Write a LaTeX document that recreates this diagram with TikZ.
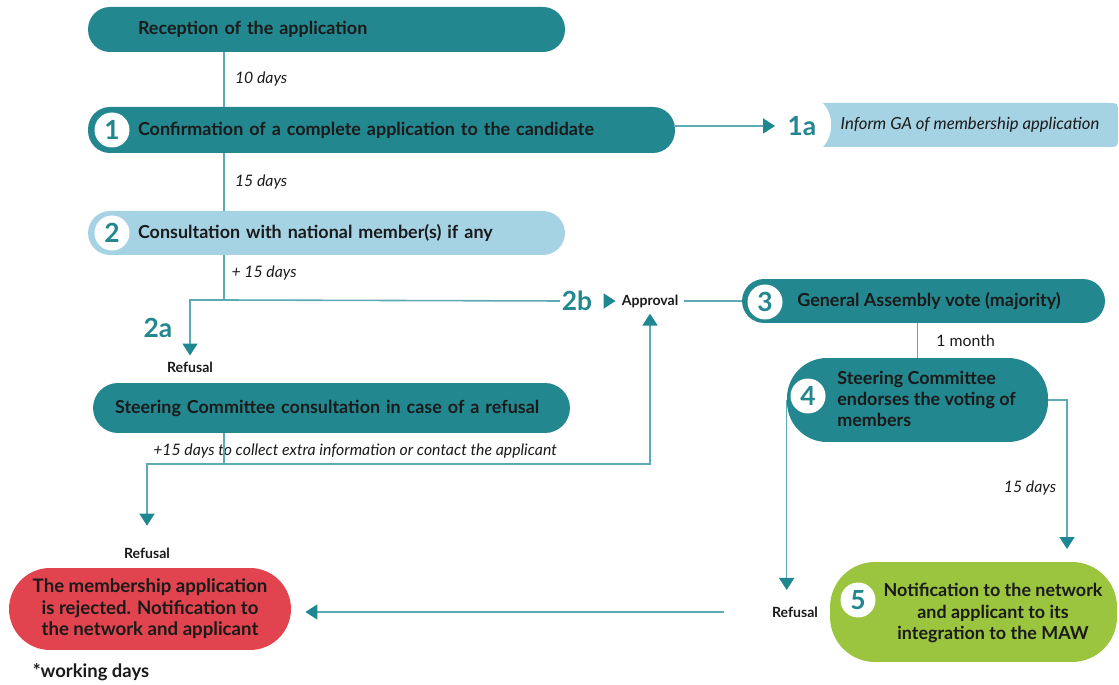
\documentclass[tikz,border=0pt]{standalone}
\usepackage{fontspec}
\setmainfont{Lato}
\usetikzlibrary{positioning,arrows.meta}
\definecolor{tealbox}{HTML}{23878F}
\definecolor{lightbox}{HTML}{A6D3E4}
\definecolor{linecol}{HTML}{5CAAB4}
\definecolor{tipcol}{HTML}{1F8791}
\definecolor{redbox}{HTML}{E2444F}
\definecolor{greenbox}{HTML}{9BC53E}
\definecolor{txt}{HTML}{1A1A1A}
\tikzset{
  stage/.style={fill=tealbox, rounded corners=0.44cm, minimum height=0.9cm, inner ysep=0pt,
    text=txt, align=left, font=\bfseries\fontsize{10.2}{12}\selectfont},
  boxtext/.style={text=txt, font=\bfseries\fontsize{10.2}{12}\selectfont},
  badge/.style={circle, fill=white, minimum size=0.7cm, inner sep=0pt, text=tealbox,
    font=\bfseries\fontsize{15}{15}\selectfont},
  tag/.style={text=tealbox, inner sep=1pt, font=\bfseries\fontsize{15}{15}\selectfont},
  small/.style={text=txt, font=\bfseries\fontsize{8}{9}\selectfont},
  days/.style={text=txt, font=\itshape\fontsize{9}{10}\selectfont},
  link/.style={draw=linecol, line width=0.9pt},
  arr/.style={link, -{Triangle[length=0.24cm, width=0.3cm, color=tipcol]}},
}
\begin{document}
\begin{tikzpicture}[x=0.02cm, y=-0.02cm]
  \useasboundingbox (0,0) rectangle (1119,685);
  % left column
  \node[stage, text width=7.54cm, inner xsep=1cm] (rec) at (326.5,29.5) {Reception of the application};
  \node[stage, text width=9.74cm, inner xsep=1cm, minimum height=0.92cm] (conf) at (381.5,130) {Confirmation of a complete application to the candidate};
  \node[stage, fill=lightbox, text width=7.54cm, inner xsep=1cm, minimum height=0.88cm] (cons) at (326.5,233) {Consultation with national member(s) if any};
  \node[stage, text width=8.66cm, inner xsep=0.44cm, minimum height=1cm, rounded corners=0.5cm] (scc) at (331.5,408) {Steering Committee consultation in case of a refusal};
  \node[badge] (b1) at (112,130) {1};
  \node[badge] (b2) at (112,233) {2};
  % 1a
  \fill[lightbox] (823,103) -- (1108,103) .. controls (1118,103) .. (1118,113) -- (1118,137)
    .. controls (1118,147) .. (1108,147) -- (823,147) .. controls (834,135) and (834,115) .. (823,103) -- cycle;
  \node[days, font=\itshape\fontsize{9.5}{11}\selectfont] (inform) at (970,125) {Inform GA of membership application};
  \node[tag] (t1a) at (802,126) {1a};
  % right column
  \node[stage, minimum width=7.26cm, minimum height=0.88cm] (ga) at (923.5,301) {};
  \node[boxtext, anchor=west, inner sep=0pt] (gatxt) at (797,301) {General Assembly vote (majority)};
  \node[stage, minimum width=5.22cm, minimum height=1.68cm, rounded corners=0.8cm] (endo) at (917.5,400) {};
  \node[boxtext, anchor=west, align=left, inner sep=0pt] (endotxt) at (837,399) {Steering Committee\\endorses the voting of\\members};
  \node[badge] (b3) at (765,302) {3};
  \node[badge] (b4) at (808,396) {4};
  \node[fill=greenbox, rounded corners=0.9cm, minimum width=5.74cm, minimum height=2cm] (notif) at (973.5,612) {};
  \node[boxtext, align=center] (notiftxt) at (993,613) {Notification to the network\\and applicant to its\\integration to the MAW};
  \node[badge] (b5) at (858,600) {5};
  % rejection
  \node[fill=redbox, rounded corners=0.82cm, minimum width=5.64cm, minimum height=1.64cm, boxtext, align=center,
    font=\bfseries\fontsize{10.6}{12.2}\selectfont] (rej) at (150,609) {The membership application\\is rejected. Notification to\\the network and applicant};
  \node[text=txt, font=\bfseries\fontsize{10.5}{12}\selectfont] (note) at (91,672) {*working days};
  % small labels
  \node[small] (ref1) at (190,367) {Refusal};
  \node[small] (ref2) at (147,553) {Refusal};
  \node[small] (ref3) at (795,612) {Refusal};
  \node[small] (appr) at (650,301) {Approval};
  \node[tag] (t2a) at (158,328) {2a};
  \node[tag] (t2b) at (577,301) {2b};
  \node[days] (extra) at (355,451) {+15 days to collect extra information or contact the applicant};
  \node[days] (d15b) at (1030,488) {15 days};
  \coordinate (j2) at (224,300);
  \coordinate (j3) at (224,464);
  \coordinate (c5) at (1067,549);
  % connectors
  \draw[link] (rec.south -| j2) -- (conf.north -| j2) node[midway, right=2.5pt, days] {10 days};
  \draw[link] (conf.south -| j2) -- (cons.north -| j2) node[midway, right=2.5pt, days] {15 days};
  \draw[link] (cons.south -| j2) -- (j2) node[pos=.4, right=0.5pt, days] {+ 15 days};
  \draw[arr, shorten >=6pt] (conf.east |- t1a) -- (t1a.west);
  \draw[arr] (j2) -| (ref1.north);
  \draw[link] (j2) -- (t2b.west);
  \draw[arr, shorten <=6pt] (t2b.east) -- (appr.west);
  \draw[link] (appr.east) -- (ga.west);
  \draw[link] (scc.south -| j3) -- (j3);
  \draw[arr] (j3) -| (appr.south);
  \draw[arr, shorten >=9pt] (j3) -| (ref2.north);
  \draw[link] (ga.south -| endo.north) -- (endo.north) node[midway, right=7pt, text=txt, font=\fontsize{9}{10}\selectfont] {1 month};
  \draw[arr] (endo.east) -| (c5);
  \draw[arr, shorten >=6pt] (endo.west) -- (endo.west |- ref3.north);
  \draw[arr, shorten <=24pt, shorten >=8pt] (ref3.west) -- (ref3.west -| rej.east);
\end{tikzpicture}
\end{document}
